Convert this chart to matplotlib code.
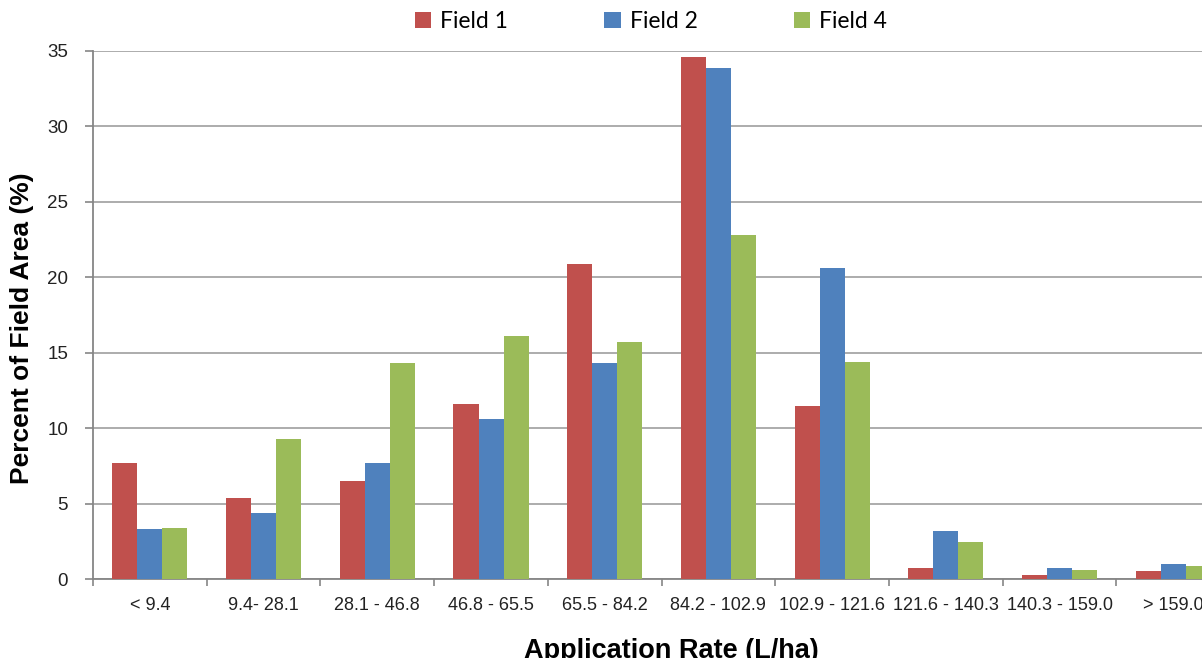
import matplotlib
matplotlib.use("Agg")
import matplotlib.pyplot as plt
import numpy as np

# Application rate classes (L/ha)
categories = ["< 9.4", "9.4- 28.1", "28.1 - 46.8", "46.8 - 65.5", "65.5 - 84.2",
              "84.2 - 102.9", "102.9 - 121.6", "121.6 - 140.3", "140.3 - 159.0", "> 159.0"]

# Percent of field area in each class
field1 = [7.7, 5.4, 6.5, 11.6, 20.9, 34.6, 11.5, 0.75, 0.3, 0.5]
field2 = [3.3, 4.4, 7.7, 10.6, 14.3, 33.9, 20.6, 3.2, 0.75, 1.0]
field4 = [3.4, 9.3, 14.3, 16.1, 15.7, 22.8, 14.4, 2.45, 0.6, 0.85]

series_names = ["Field 1", "Field 2", "Field 4"]
colors = ["#C0504D", "#4F81BD", "#9BBB59"]

plt.rcParams["font.family"] = ["Liberation Sans", "DejaVu Sans"]

fig = plt.figure(figsize=(12.02, 6.58), dpi=100)
ax = fig.add_axes([0.0774, 0.12, 0.946, 0.8025])

x = np.arange(len(categories))
width = 0.22
for i, (vals, name, col) in enumerate(zip([field1, field2, field4], series_names, colors)):
    ax.bar(x + (i - 1) * width, vals, width, color=col, label=name, zorder=3)

ax.set_xlim(-0.5, len(categories) - 0.5)
ax.set_ylim(0, 35)
ax.set_yticks(np.arange(0, 36, 5))
ax.yaxis.grid(True, color="#A6A6A6", linewidth=1.3, zorder=0)

# category boundaries as major ticks, labels on minor ticks at centres
ax.set_xticks(np.arange(-0.5, len(categories), 1.0))
ax.set_xticklabels([])
ax.set_xticks(x, minor=True)
ax.set_xticklabels(categories, minor=True)
ax.tick_params(axis="x", which="major", length=5, width=1.2, color="#868686")
ax.tick_params(axis="x", which="minor", length=0, pad=13, labelsize=13, labelcolor="#222222")
ax.tick_params(axis="y", length=6, width=1.2, color="#868686", pad=12,
               labelsize=13.5, labelcolor="#222222")

for side in ["top", "right"]:
    ax.spines[side].set_visible(False)
for side in ["left", "bottom"]:
    ax.spines[side].set_color("#868686")
    ax.spines[side].set_linewidth(1.3)

ax.set_ylabel("Percent of Field Area (%)", fontsize=19, fontweight="bold")
ax.yaxis.set_label_coords(-0.052, 0.475)
ax.set_xlabel("Application Rate (L/ha)", fontsize=19.5, fontweight="bold")
ax.xaxis.set_label_coords(0.509, -0.111)

fig.legend(loc="center", bbox_to_anchor=(0.5416, 0.9666), ncol=3, frameon=False,
           prop={"family": "Lato", "size": 16.5}, handlelength=0.7, handleheight=0.7,
           handletextpad=0.4, columnspacing=4.2)

fig.savefig("out.png", dpi=100)
